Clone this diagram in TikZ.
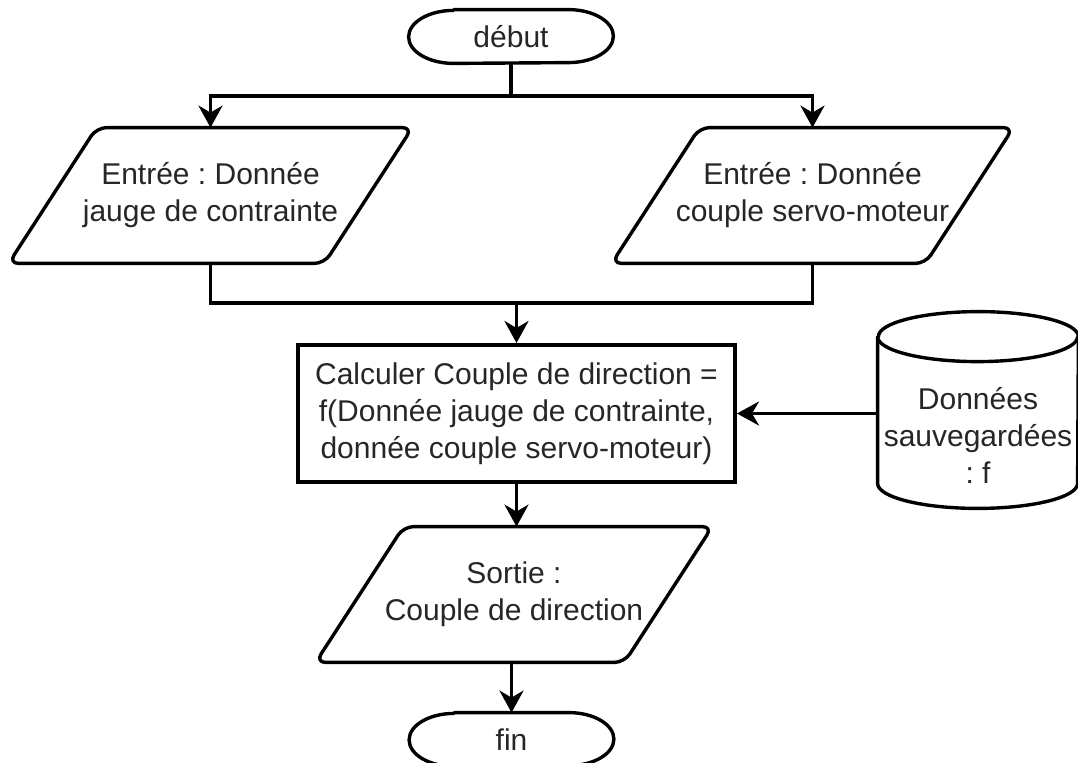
\documentclass[tikz,border=0pt]{standalone}
\usepackage{fontspec}
\setmainfont{Liberation Sans}
\frenchspacing
\usetikzlibrary{calc,arrows.meta}
\begin{document}
\begin{tikzpicture}[x=0.5pt,y=-0.5pt,
  shapeline/.style={line width=1.7pt,draw=black,line join=round},
  boxline/.style={line width=2pt,draw=black},
  arr/.style={line width=1.7pt,-{Stealth[length=11pt,width=12pt,inset=3.5pt]}},
  conn/.style={line width=1.7pt},
  txt/.style={font=\fontsize{15pt}{18.5pt}\selectfont,text=black!85,align=center,inner sep=0pt},
]
\useasboundingbox (0,0) rectangle (1078,762);
\clip (0,0) rectangle (1078,762);

% nodes (geometry holders)
\node[txt,minimum width=102pt,minimum height=26.5pt] (deb) at (511,36.5) {début};
\node[txt,minimum width=201.5pt,minimum height=67.5pt] (in1) at (210.5,195.5) {Entrée : Donnée\\jauge de contrainte};
\node[txt,minimum width=200.5pt,minimum height=67.5pt] (in2) at (812.5,195.5) {Entrée : Donnée\\couple servo-moteur};
\node[txt,boxline,minimum width=218.5pt,minimum height=68.5pt] (calc) at (516.5,413.5) {Calculer Couple de direction =\\f(Donnée jauge de contrainte,\\donnée couple servo-moteur)};
\node[txt,minimum width=100pt,minimum height=73pt] (db) at (978,435) {Données\\sauvegardées\\: f};
\node[txt,minimum width=198pt,minimum height=67.5pt] (out) at (514,594.5) {Sortie :\\Couple de direction};
\node[txt,minimum width=102pt,minimum height=26.5pt] (fin) at (511.5,739.5) {fin};

% terminal shapes
\foreach \n in {deb,fin}{
  \draw[shapeline] ($(\n.north west)+(45,0)$) -- ($(\n.north east)-(45,0)$)
    arc[start angle=90,end angle=-90,x radius=22.5pt,y radius=13.25pt]
    -- ($(\n.south west)+(45,0)$)
    arc[start angle=270,end angle=90,x radius=22.5pt,y radius=13.25pt] -- cycle;
}
% parallelograms
\foreach \n in {in1,in2,out}{
  \draw[shapeline,rounded corners=5pt] ($(\n.north west)+(88,0)$) -- (\n.north east)
    -- ($(\n.south east)-(88,0)$) -- (\n.south west) -- cycle;
}
% cylinder
\draw[shapeline] ($(db.north west)+(0,-25)$) -- ($(db.south west)+(0,-25)$)
  arc[start angle=180,end angle=360,x radius=50pt,y radius=12.5pt]
  -- ($(db.north east)+(0,-25)$)
  arc[start angle=0,end angle=180,x radius=50pt,y radius=12.5pt] -- cycle;
\draw[shapeline] ($(db.north west)+(0,-25)$)
  arc[start angle=180,end angle=360,x radius=50pt,y radius=12.5pt];

% connectors
\coordinate (bus) at (511,96);
\coordinate (join) at (516.5,303);
\draw[conn] (deb.south) -- (bus);
\draw[arr] (bus) -| (in1.north);
\draw[arr] (bus) -| (in2.north);
\draw[conn] (in1.south) |- (join);
\draw[conn] (in2.south) |- (join);
\draw[arr] (join) -- (calc.north);
\draw[arr] (calc.east -| db.west) -- (calc.east);
\draw[arr] (calc.south) -- (calc.south |- out.north);
\draw[arr] (out.south) -- (out.south -| fin.north) -- (fin.north);
\end{tikzpicture}
\end{document}
